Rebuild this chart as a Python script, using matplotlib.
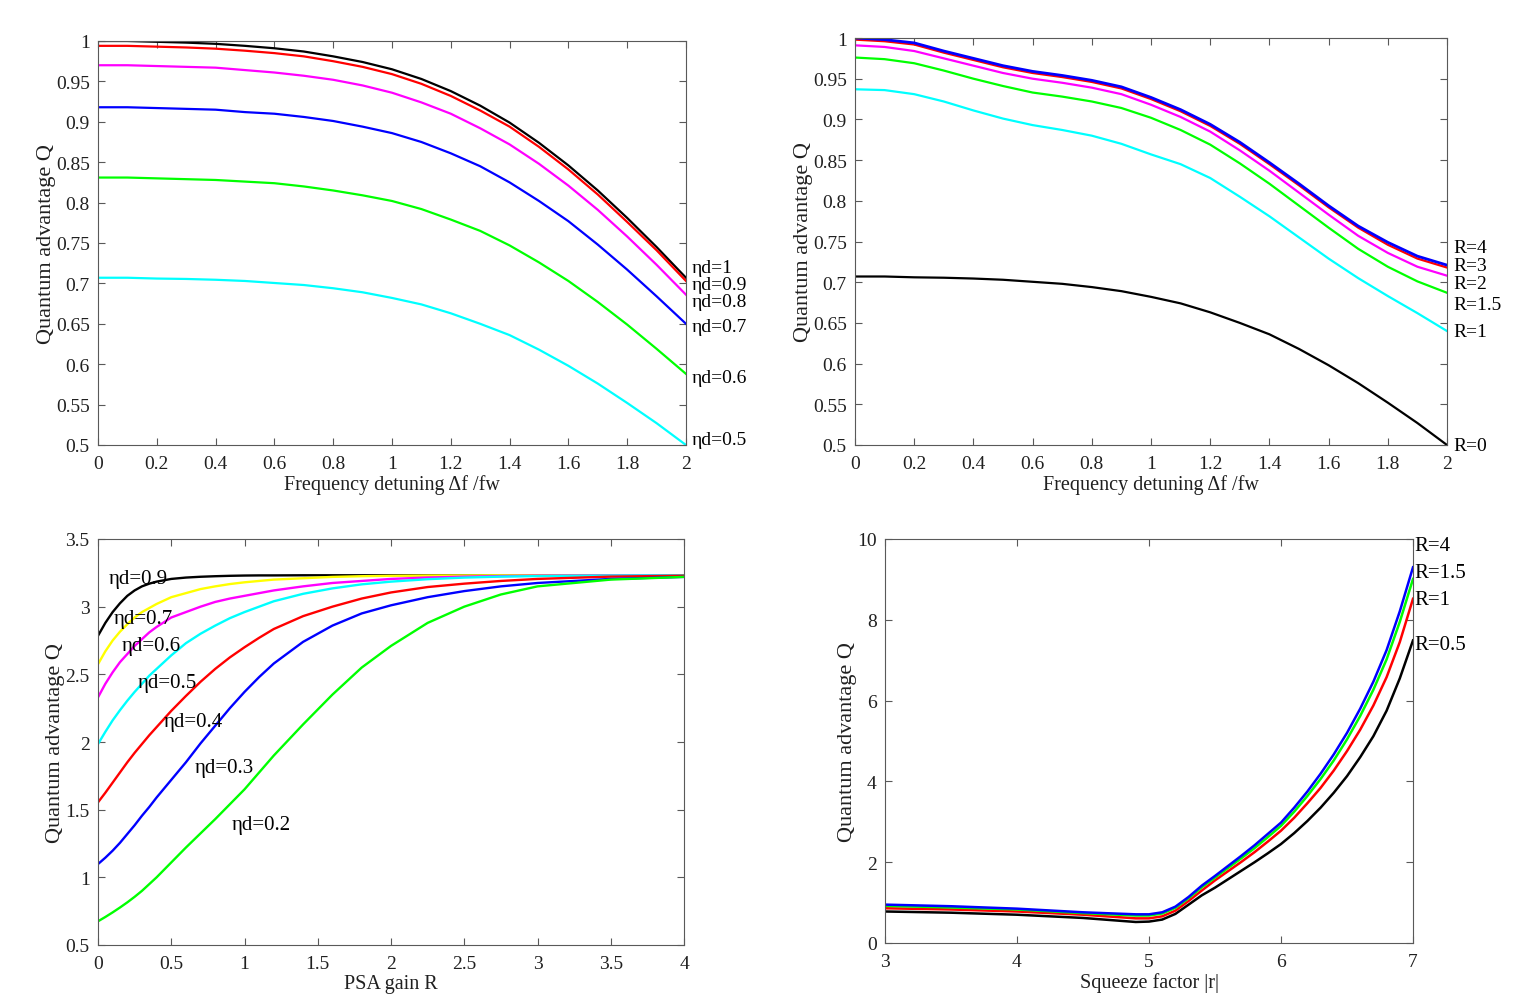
import numpy as np
import matplotlib.pyplot as plt
from matplotlib.ticker import FuncFormatter

plt.rcParams['font.family'] = ['Liberation Serif', 'DejaVu Serif']
plt.rcParams['font.size'] = 14

K, R_, M, B, G, C, Y = '#000000', '#FF0000', '#FF00FF', '#0000FF', '#00FF00', '#00FFFF', '#FFFF00'

# ---- top left: Q vs detuning for several detector efficiencies
df = [0.0, 0.1, 0.2, 0.3, 0.4, 0.5, 0.6, 0.7, 0.8, 0.9, 1.0,
      1.1, 1.2, 1.3, 1.4, 1.5, 1.6, 1.7, 1.8, 1.9, 2.0]
eta_labels = ['ηd=1', 'ηd=0.9', 'ηd=0.8', 'ηd=0.7', 'ηd=0.6', 'ηd=0.5']
eta_colors = [K, R_, M, B, G, C]
q_eta = [
    [1.000, 1.000, 0.999, 0.998, 0.9965, 0.994, 0.991, 0.987, 0.981, 0.974, 0.965,
     0.953, 0.938, 0.920, 0.899, 0.874, 0.846, 0.815, 0.781, 0.745, 0.707],
    [0.994, 0.994, 0.993, 0.992, 0.9905, 0.988, 0.985, 0.981, 0.975, 0.968, 0.959,
     0.947, 0.932, 0.914, 0.894, 0.869, 0.841, 0.810, 0.776, 0.741, 0.703],
    [0.970, 0.970, 0.969, 0.968, 0.967, 0.964, 0.961, 0.957, 0.952, 0.945, 0.936,
     0.924, 0.910, 0.892, 0.872, 0.848, 0.821, 0.791, 0.758, 0.723, 0.686],
    [0.918, 0.918, 0.917, 0.916, 0.915, 0.912, 0.910, 0.906, 0.901, 0.894, 0.886,
     0.875, 0.861, 0.845, 0.825, 0.802, 0.777, 0.748, 0.717, 0.684, 0.650],
    [0.831, 0.831, 0.830, 0.829, 0.828, 0.826, 0.824, 0.820, 0.815, 0.809, 0.802,
     0.792, 0.779, 0.765, 0.747, 0.726, 0.703, 0.677, 0.649, 0.619, 0.588],
    [0.707, 0.707, 0.706, 0.7055, 0.7045, 0.703, 0.7005, 0.698, 0.694, 0.689, 0.682,
     0.674, 0.663, 0.650, 0.636, 0.618, 0.598, 0.576, 0.552, 0.527, 0.500],
]
eta_label_y = [0.720, 0.699, 0.677, 0.647, 0.584, 0.507]

# ---- top right: Q vs detuning for several PSA gains
gain_colors = [R_, B, M, G, C, K]
q_gain = [
    [0.998, 0.996, 0.992, 0.982, 0.973, 0.964, 0.957, 0.952, 0.946, 0.938, 0.925,
     0.910, 0.892, 0.870, 0.845, 0.819, 0.792, 0.767, 0.746, 0.729, 0.718],
    [1.000, 0.998, 0.994, 0.984, 0.975, 0.966, 0.959, 0.954, 0.948, 0.940, 0.927,
     0.912, 0.894, 0.872, 0.847, 0.821, 0.794, 0.769, 0.749, 0.732, 0.721],
    [0.991, 0.989, 0.984, 0.975, 0.966, 0.957, 0.950, 0.945, 0.939, 0.931, 0.918,
     0.903, 0.885, 0.862, 0.837, 0.810, 0.783, 0.757, 0.736, 0.719, 0.708],
    [0.976, 0.974, 0.969, 0.960, 0.950, 0.941, 0.933, 0.928, 0.922, 0.914, 0.902,
     0.887, 0.869, 0.846, 0.821, 0.794, 0.767, 0.741, 0.719, 0.701, 0.687],
    [0.937, 0.936, 0.931, 0.922, 0.911, 0.901, 0.893, 0.887, 0.880, 0.870, 0.857,
     0.845, 0.828, 0.805, 0.781, 0.755, 0.729, 0.705, 0.683, 0.662, 0.640],
    [0.707, 0.707, 0.706, 0.7055, 0.7045, 0.703, 0.7005, 0.698, 0.694, 0.689, 0.682,
     0.674, 0.663, 0.650, 0.636, 0.618, 0.598, 0.576, 0.552, 0.527, 0.500],
]
gain_label_text = ['R=4', 'R=3', 'R=2', 'R=1.5', 'R=1', 'R=0']
gain_label_y = [0.743, 0.721, 0.698, 0.672, 0.639, 0.499]

# ---- bottom left: Q vs PSA gain
psa = [0, 0.05, 0.1, 0.15, 0.2, 0.25, 0.3, 0.35, 0.4, 0.5, 0.6, 0.7, 0.8, 0.9,
       1.0, 1.1, 1.2, 1.4, 1.6, 1.8, 2.0, 2.25, 2.5, 2.75, 3.0, 3.5, 4.0]
psa_colors = [K, Y, M, C, R_, B, G]
q_psa = [
    [2.785, 2.88, 2.96, 3.025, 3.08, 3.12, 3.15, 3.17, 3.185, 3.205, 3.215, 3.221, 3.225, 3.228,
     3.230, 3.231, 3.231, 3.232, 3.232, 3.232, 3.232, 3.232, 3.232, 3.232, 3.232, 3.232, 3.232],
    [2.575, 2.67, 2.75, 2.815, 2.87, 2.92, 2.96, 2.99, 3.02, 3.07, 3.10, 3.13, 3.15, 3.167,
     3.18, 3.19, 3.20, 3.21, 3.22, 3.225, 3.228, 3.23, 3.231, 3.232, 3.232, 3.232, 3.232],
    [2.33, 2.43, 2.515, 2.59, 2.65, 2.71, 2.76, 2.81, 2.85, 2.92, 2.96, 3.00, 3.035, 3.06,
     3.08, 3.10, 3.12, 3.15, 3.175, 3.19, 3.205, 3.215, 3.222, 3.226, 3.229, 3.231, 3.232],
    [1.985, 2.075, 2.16, 2.235, 2.305, 2.37, 2.43, 2.49, 2.54, 2.64, 2.73, 2.80, 2.86, 2.915,
     2.96, 3.00, 3.04, 3.095, 3.135, 3.165, 3.185, 3.203, 3.215, 3.222, 3.226, 3.230, 3.232],
    [1.554, 1.625, 1.70, 1.775, 1.85, 1.92, 1.985, 2.05, 2.11, 2.23, 2.34, 2.445, 2.54, 2.625,
     2.70, 2.77, 2.835, 2.93, 3.00, 3.06, 3.105, 3.145, 3.17, 3.19, 3.205, 3.222, 3.229],
    [1.098, 1.145, 1.197, 1.255, 1.32, 1.385, 1.455, 1.52, 1.59, 1.72, 1.85, 1.99, 2.12, 2.25,
     2.37, 2.48, 2.58, 2.74, 2.86, 2.95, 3.01, 3.07, 3.115, 3.15, 3.175, 3.205, 3.22],
    [0.675, 0.707, 0.741, 0.777, 0.815, 0.856, 0.90, 0.95, 1.00, 1.11, 1.22, 1.325, 1.43, 1.54,
     1.65, 1.775, 1.90, 2.13, 2.35, 2.55, 2.71, 2.88, 3.00, 3.09, 3.15, 3.20, 3.22],
]
psa_labels = ['ηd=0.9', 'ηd=0.7', 'ηd=0.6', 'ηd=0.5', 'ηd=0.4', 'ηd=0.3', 'ηd=0.2']
psa_label_x = [0.07, 0.11, 0.16, 0.27, 0.45, 0.66, 0.91]
psa_label_y = [3.21, 2.91, 2.71, 2.44, 2.155, 1.815, 1.39]

# ---- bottom right: Q vs squeeze factor
sq = [3.0, 3.5, 4.0, 4.5, 4.9, 5.0, 5.1, 5.2, 5.3, 5.4, 5.5, 5.6, 5.7, 5.8, 5.9,
      6.0, 6.1, 6.2, 6.3, 6.4, 6.5, 6.6, 6.7, 6.8, 6.9, 7.0]
sq_colors = [K, R_, G, B]
q_sq = [
    [0.78, 0.75, 0.70, 0.62, 0.52, 0.53, 0.58, 0.72, 0.95, 1.18, 1.37, 1.58, 1.79, 2.00, 2.22,
     2.45, 2.72, 3.02, 3.35, 3.72, 4.13, 4.60, 5.12, 5.75, 6.55, 7.49],
    [0.86, 0.83, 0.78, 0.70, 0.61, 0.61, 0.66, 0.80, 1.04, 1.30, 1.55, 1.78, 2.01, 2.25, 2.51,
     2.78, 3.10, 3.46, 3.84, 4.27, 4.75, 5.28, 5.88, 6.58, 7.45, 8.52],
    [0.92, 0.88, 0.83, 0.74, 0.68, 0.68, 0.73, 0.87, 1.11, 1.38, 1.62, 1.86, 2.10, 2.35, 2.62,
     2.90, 3.25, 3.64, 4.06, 4.52, 5.04, 5.62, 6.27, 7.02, 7.95, 9.01],
    [0.95, 0.91, 0.85, 0.76, 0.71, 0.71, 0.76, 0.90, 1.14, 1.42, 1.66, 1.91, 2.16, 2.42, 2.70,
     2.98, 3.35, 3.75, 4.19, 4.67, 5.20, 5.80, 6.47, 7.25, 8.21, 9.30],
]
sq_labels = ['R=4', 'R=1.5', 'R=1', 'R=0.5']
sq_label_y = [9.85, 9.16, 8.51, 7.40]

fig = plt.figure(figsize=(15.21, 10.03), dpi=100)
W, H = 1521, 1003


def box(l, t, r, b):
    return [l / W, 1 - b / H, (r - l) / W, (b - t) / H]


def style(ax, xlabel, ypad):
    for s in ax.spines.values():
        s.set_color('0.35')
        s.set_linewidth(0.8)
    ax.tick_params(direction='in', top=True, right=True, length=5,
                   color='0.35', labelcolor='#202020', labelsize=14)
    ax.tick_params(axis='x', pad=7)
    ax.tick_params(axis='y', pad=6)
    fmt = FuncFormatter(lambda v, p: '{:g}'.format(round(v, 4)))
    ax.xaxis.set_major_formatter(fmt)
    ax.yaxis.set_major_formatter(fmt)
    ax.set_ylabel('Quantum advantage Q', fontsize=16, color='#202020', labelpad=ypad)
    ax.set_xlabel(xlabel, fontsize=14.5, color='#202020', labelpad=2)


# top left
ax1 = fig.add_axes(box(98, 42, 686, 446))
for q, c in zip(q_eta, eta_colors):
    ax1.plot(df, q, color=c, lw=1.6)
for t, y in zip(eta_labels, eta_label_y):
    ax1.text(2.02, y, t, fontsize=14, va='center', ha='left', clip_on=False)
ax1.set_xlim(0, 2)
ax1.set_ylim(0.5, 1)
ax1.set_xticks(np.arange(0, 2.01, 0.2))
ax1.set_yticks(np.arange(0.5, 1.001, 0.05))
style(ax1, 'Frequency detuning Δf /fw', 0)

# top right
ax2 = fig.add_axes(box(855, 39, 1447, 446))
for q, c in zip(q_gain, gain_colors):
    ax2.plot(df, q, color=c, lw=2.0 if c == B else 1.6)
for t, y in zip(gain_label_text, gain_label_y):
    ax2.text(2.02, y, t, fontsize=14, va='center', ha='left', clip_on=False)
ax2.set_xlim(0, 2)
ax2.set_ylim(0.5, 1)
ax2.set_xticks(np.arange(0, 2.01, 0.2))
ax2.set_yticks(np.arange(0.5, 1.001, 0.05))
style(ax2, 'Frequency detuning Δf /fw', 0)

# bottom left
ax3 = fig.add_axes(box(98, 540, 684, 946))
for q, c in zip(q_psa, psa_colors):
    ax3.plot(psa, q, color=c, lw=1.7)
for t, x, y in zip(psa_labels, psa_label_x, psa_label_y):
    ax3.text(x, y, t, fontsize=15, va='center', ha='left')
ax3.set_xlim(0, 4)
ax3.set_ylim(0.5, 3.5)
ax3.set_xticks(np.arange(0, 4.01, 0.5))
ax3.set_yticks(np.arange(0.5, 3.51, 0.5))
style(ax3, 'PSA gain R', 0)

# bottom right
ax4 = fig.add_axes(box(885, 540, 1413, 944))
for q, c in zip(q_sq, sq_colors):
    ax4.plot(sq, q, color=c, lw=1.8)
for t, y in zip(sq_labels, sq_label_y):
    ax4.text(7.01, y, t, fontsize=15, va='center', ha='left', clip_on=False)
ax4.set_xlim(3, 7)
ax4.set_ylim(0, 10)
ax4.set_xticks([3, 4, 5, 6, 7])
ax4.set_yticks([0, 2, 4, 6, 8, 10])
style(ax4, 'Squeeze factor |r|', 0)

fig.savefig('out.png', dpi=100)
